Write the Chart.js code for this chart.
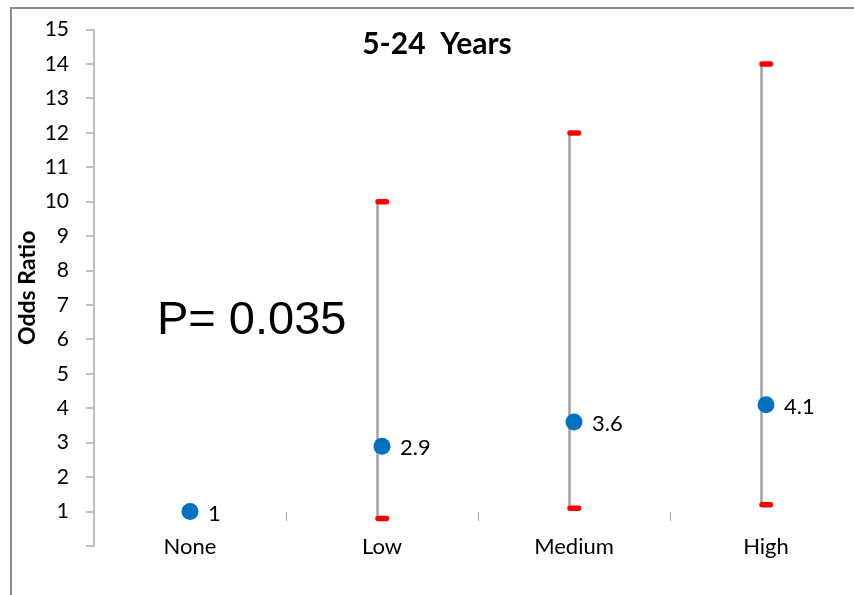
<!DOCTYPE html>
<html>
<head>
<meta charset="utf-8">
<script src="https://cdn.jsdelivr.net/npm/chart.js@4/dist/chart.umd.min.js"></script>
<style>
  html, body { margin: 0; padding: 0; background: #fff; overflow: hidden; width: 854px; height: 595px; }
  #wrap { position: relative; width: 854px; height: 595px; overflow: hidden; }
  #frame { position: absolute; left: 10px; top: 7px; width: 1000px; height: 1000px;
           border-left: 2px solid #8c8c8c; border-top: 2px solid #8c8c8c; pointer-events: none; }
  #c { position: absolute; left: 0; top: 0; }
</style>
</head>
<body>
<div id="wrap">
  <canvas id="c" width="880" height="595"></canvas>
  <div id="frame"></div>
</div>
<script>
// ===== Data
const categories = ['None', 'Low', 'Medium', 'High'];
const oddsRatio = [1, 2.9, 3.6, 4.1];
const ciLower = [null, 0.8, 1.1, 1.2];
const ciUpper = [null, 10, 12, 14];
const yTicks = [1, 2, 3, 4, 5, 6, 7, 8, 9, 10, 11, 12, 13, 14, 15];
const chartTitle = '5-24  Years';
const pText = 'P= 0.035';

const FONT = "Lato, Calibri, 'Open Sans', sans-serif";
const axisGrey = '#bfbfbf';

// ===== Error bars (gray line + red caps), drawn from the data through the scales
const errorBars = {
  id: 'errorBars',
  beforeDatasetsDraw(chart) {
    const { ctx, scales: { x, y } } = chart;
    ctx.save();
    categories.forEach((cat, i) => {
      if (ciLower[i] == null) return;
      const lx = x.getPixelForValue(i) - 4.5;
      const yLo = y.getPixelForValue(ciLower[i]);
      const yHi = y.getPixelForValue(ciUpper[i]);
      ctx.strokeStyle = '#a0a0a0';
      ctx.lineWidth = 2.5;
      ctx.beginPath();
      ctx.moveTo(lx, yHi);
      ctx.lineTo(lx, yLo);
      ctx.stroke();
      ctx.strokeStyle = '#ff0000';
      ctx.lineWidth = 5.5;
      ctx.lineCap = 'round';
      [yLo, yHi].forEach(py => {
        ctx.beginPath();
        ctx.moveTo(lx + 0.5, py);
        ctx.lineTo(lx + 9, py);
        ctx.stroke();
      });
      ctx.lineCap = 'butt';
    });
    ctx.restore();
  }
};

// ===== Value labels, title, P value
const extraText = {
  id: 'extraText',
  afterDatasetsDraw(chart) {
    const { ctx, scales: { x, y } } = chart;
    ctx.save();
    ctx.fillStyle = '#000';
    ctx.font = `22px ${FONT}`;
    ctx.textAlign = 'left';
    ctx.textBaseline = 'middle';
    oddsRatio.forEach((v, i) => {
      ctx.fillText(String(v), x.getPixelForValue(i) + 18, y.getPixelForValue(v) + 2);
    });
    ctx.textAlign = 'center';
    ctx.textBaseline = 'alphabetic';
    ctx.font = `bold 30px ${FONT}`;
    ctx.fillText(chartTitle, 437, 54);
    ctx.textAlign = 'left';
    ctx.font = "47px 'Liberation Sans', Arial, sans-serif";
    ctx.fillText(pText, 157, 334);
    ctx.restore();
  }
};

const chart = new Chart(document.getElementById('c'), {
  type: 'line',
  data: {
    labels: categories,
    datasets: [{
      data: oddsRatio,
      showLine: false,
      pointRadius: 8.5,
      pointHoverRadius: 8.5,
      pointBackgroundColor: '#0070c0',
      pointBorderWidth: 0
    }]
  },
  options: {
    responsive: false,
    animation: false,
    events: [],
    layout: { padding: { left: 0, top: 24, right: 18, bottom: 49 } },
    plugins: { legend: { display: false }, tooltip: { enabled: false } },
    scales: {
      x: {
        type: 'category',
        offset: true,
        position: { y: 0.98 },
        afterFit: s => { s.height = 0; },
        border: { display: false },
        grid: { offset: true, drawOnChartArea: false, drawTicks: true, tickLength: 9, color: '#a6a6a6', lineWidth: 1 },
        ticks: { color: '#000', font: { family: FONT, size: 22 }, padding: 12, maxRotation: 0 }
      },
      y: {
        min: 0,
        max: 15,
        afterFit: s => { s.width = 94; },
        afterBuildTicks: s => { s.ticks = [0].concat(yTicks).map(v => ({ value: v })); },
        border: { display: true, color: axisGrey, width: 2 },
        grid: { drawOnChartArea: false, drawTicks: true, tickLength: 8, color: axisGrey, lineWidth: 2 },
        ticks: {
          color: '#000',
          font: { family: FONT, size: 21 },
          padding: 17,
          callback: v => (v === 0 ? '' : v)
        },
        title: {
          display: true,
          text: 'Odds Ratio',
          color: '#000',
          font: { family: FONT, size: 23, weight: 'bold' },
          padding: { top: 14, bottom: 0 }
        }
      }
    }
  },
  plugins: [errorBars, extraText]
});
</script>
</body>
</html>
